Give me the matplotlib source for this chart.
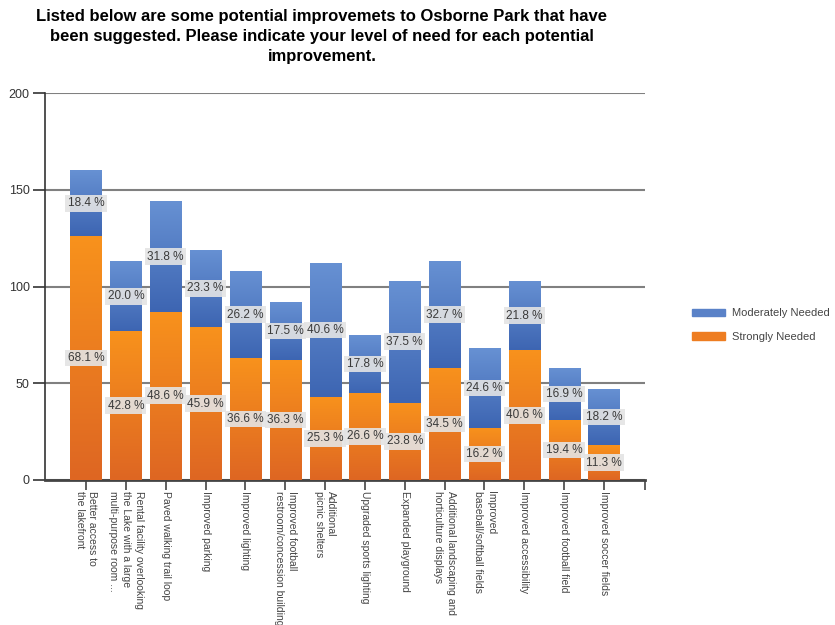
import numpy as np
import matplotlib
matplotlib.use("Agg")
import matplotlib.pyplot as plt
from matplotlib.colors import LinearSegmentedColormap
from matplotlib.patches import Patch

# Survey items (x axis)
categories = [
    "Better access to\nthe lakefront",
    "Rental facility overlooking\nthe Lake with a large\nmulti-purpose room ...",
    "Paved walking trail loop",
    "Improved parking",
    "Improved lighting",
    "Improved football\nrestroom/concession building",
    "Additional\npicnic shelters",
    "Upgraded sports lighting",
    "Expanded playground",
    "Additional landscaping and\nhorticulture displays",
    "Improved\nbaseball/softball fields",
    "Improved accessibility",
    "Improved football field",
    "Improved soccer fields",
]

# Response counts per item
strongly = [126, 77, 87, 79, 63, 62, 43, 45, 40, 58, 27, 67, 31, 18]
moderately = [34, 36, 57, 40, 45, 30, 69, 30, 63, 55, 41, 36, 27, 29]

# Share of all respondents, shown on each segment
strongly_pct = [68.1, 42.8, 48.6, 45.9, 36.6, 36.3, 25.3, 26.6, 23.8, 34.5, 16.2, 40.6, 19.4, 11.3]
moderately_pct = [18.4, 20.0, 31.8, 23.3, 26.2, 17.5, 40.6, 17.8, 37.5, 32.7, 24.6, 21.8, 16.9, 18.2]

y_ticks = [0, 50, 100, 150, 200]

title = ("Listed below are some potential improvemets to Osborne Park that have\n"
         "been suggested. Please indicate your level of need for each potential\n"
         "improvement.")

plt.rcParams["font.family"] = ["Liberation Sans", "DejaVu Sans"]

W, H = 835, 625
fig = plt.figure(figsize=(W / 100, H / 100), dpi=100)
ax = fig.add_axes([45 / W, 1 - 480 / H, 600 / W, 387 / H])

x = np.arange(len(categories))
width = 0.78
bars_s = ax.bar(x, strongly, width, color="#ec7a20", zorder=2, linewidth=0)
bars_m = ax.bar(x, moderately, width, bottom=strongly, color="#5079c2",
                zorder=2, linewidth=0)


def shade(bars, top, bottom):
    """Fill each bar with a vertical gradient, light at the top."""
    cmap = LinearSegmentedColormap.from_list("shade", [bottom, top])
    grad = np.linspace(0, 1, 256).reshape(-1, 1)
    for b in bars:
        x0, y0 = b.get_x(), b.get_y()
        w, h = b.get_width(), b.get_height()
        im = ax.imshow(grad, cmap=cmap, origin="lower",
                       extent=(x0, x0 + w, y0, y0 + h), aspect="auto",
                       zorder=3, interpolation="bilinear")
        im.set_clip_path(b)


shade(bars_s, "#f8921c", "#de6623")
shade(bars_m, "#6791d3", "#3d65b2")

box = dict(boxstyle="square,pad=0.2", fc="#e4e4e4", ec="none", alpha=0.9)
for i in range(len(categories)):
    ax.text(x[i], strongly[i] / 2, f"{strongly_pct[i]:.1f} %", ha="center",
            va="center", fontsize=8.5, color="#3a3a3a", bbox=box, zorder=5)
    ax.text(x[i], strongly[i] + moderately[i] / 2, f"{moderately_pct[i]:.1f} %",
            ha="center", va="center", fontsize=8.5, color="#3a3a3a", bbox=box,
            zorder=5)

ax.set_xlim(-1.03, 14.03)
ax.set_ylim(0, 200)
ax.set_yticks(y_ticks)
ax.set_xticks(x)
ax.set_xticks([14.03], minor=True)
ax.set_xticklabels(categories, rotation=270, ha="center", va="top",
                   fontsize=7.5, color="#444444", linespacing=1.35,
                   multialignment="left")

ax.set_axisbelow(True)
ax.yaxis.grid(True, color="#808080", lw=1.5)
for s in ("top", "right"):
    ax.spines[s].set_visible(False)
ax.spines["left"].set_color("#333333")
ax.spines["left"].set_linewidth(1.2)
ax.spines["bottom"].set_color("#444444")
ax.spines["bottom"].set_linewidth(2)

ax.tick_params(axis="y", length=9, width=1.2, color="#333333", pad=2,
               labelsize=9, labelcolor="#333333")
ax.tick_params(axis="x", which="both", length=7, width=1.2, color="#444444",
               pad=1)

fig.text(322 / W, 1 - 9 / H, title, ha="center", va="top", fontsize=12,
         fontweight="bold", linespacing=1.4)

handles = [Patch(color="#5a82c8", label="Moderately Needed"),
           Patch(color="#ee7d21", label="Strongly Needed")]
fig.legend(handles=handles, loc="center left",
           bbox_to_anchor=(692 / W, 1 - 325 / H), frameon=False, fontsize=8,
           handlelength=3.0, handleheight=0.7, labelspacing=1.2,
           handletextpad=0.6, borderpad=0, borderaxespad=0,
           labelcolor="#444444")

fig.savefig("out.png", dpi=100)
